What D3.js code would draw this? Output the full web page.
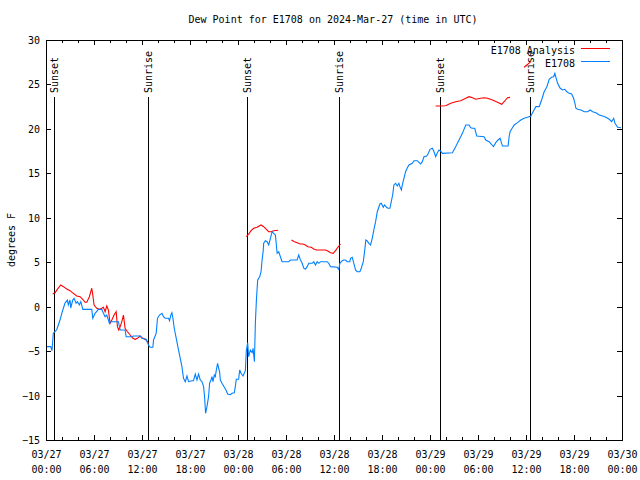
<!DOCTYPE html>
<html><head><meta charset="utf-8">
<script src="https://cdn.jsdelivr.net/npm/d3@7"></script>
<style>
body{margin:0;background:#fff}
text{font-family:"DejaVu Sans Mono","Liberation Mono",monospace;font-size:10px;fill:#000}
</style>
</head><body>
<svg id="chart" width="640" height="480"></svg>
<script>
// ---------------- DATA ----------------
const chartTitle = "Dew Point for E1708 on 2024-Mar-27 (time in UTC)";
const yAxisLabel = "degrees F";
const seriesNames = ["E1708 Analysis", "E1708"];
const startTime = Date.UTC(2024, 2, 27, 0, 0);
const endTime = Date.UTC(2024, 2, 30, 0, 0);
const yTicks = [-15, -10, -5, 0, 5, 10, 15, 20, 25, 30];
const xTickDates = ["03/27","03/27","03/27","03/27","03/28","03/28","03/28","03/28","03/29","03/29","03/29","03/29","03/30"];
const xTickTimes = ["00:00","06:00","12:00","18:00","00:00","06:00","12:00","18:00","00:00","06:00","12:00","18:00","00:00"];
const sunLabels = ["Sunset","Sunrise","Sunset","Sunrise","Sunset","Sunrise"];
const sunHours = [1.1, 12.77, 25.15, 36.68, 49.25, 60.55];

// observed E1708 (hours after 03/27 00:00 UTC, deg F)
const obsHours = [0.09,0.59,0.75,0.91,1.34,1.75,2.09,2.38,2.67,2.79,3.0,3.09,3.34,3.51,3.76,3.92,4.17,4.35,4.6,5.72,5.85,6.14,6.55,6.97,7.18,7.39,7.6,7.93,8.1,9.05,9.27,9.89,10.02,10.73,10.93,11.77,11.98,12.52,12.81,13.02,13.36,13.44,13.77,13.94,14.19,14.49,14.69,14.9,15.31,15.44,15.61,15.74,15.87,16.03,16.28,16.57,16.78,16.99,17.19,17.41,17.62,17.82,18.24,18.44,18.66,18.87,19.07,19.28,19.5,19.7,19.82,19.95,20.12,20.32,20.45,20.62,20.75,20.87,21.04,21.16,21.29,21.45,21.58,21.7,21.79,22.0,22.29,22.54,22.7,23.04,23.25,23.54,23.67,23.79,24.08,24.21,24.38,24.63,24.92,25.04,25.21,25.33,25.54,25.76,25.88,26.05,26.17,26.3,26.46,26.71,26.88,27.01,27.14,27.21,27.42,27.64,27.84,28.05,28.26,28.46,28.68,28.89,29.09,29.3,29.51,30.34,30.55,31.39,31.59,31.81,32.02,32.22,32.43,32.64,32.85,33.27,33.47,33.68,33.9,34.1,34.31,35.15,35.35,35.56,36.4,36.6,36.73,37.03,37.23,37.44,37.65,37.98,38.07,38.28,38.48,38.69,38.9,39.23,39.41,39.66,39.82,39.98,40.16,40.36,40.57,40.78,40.98,41.2,41.41,41.74,41.91,42.16,42.32,42.57,42.74,42.99,43.16,43.33,43.49,43.7,43.91,44.11,44.24,44.42,44.54,44.74,44.95,45.17,45.37,45.79,46.0,46.42,46.62,46.83,47.04,47.25,47.58,47.75,48.0,48.3,48.5,48.71,48.92,49.12,49.34,49.55,50.8,51.21,51.63,52.05,52.47,52.88,53.09,53.31,53.59,53.84,54.76,54.97,55.39,55.68,55.93,56.22,56.51,56.76,57.06,57.76,57.89,58.01,58.19,58.52,58.94,59.35,59.77,60.19,60.61,60.82,61.23,61.65,61.95,62.27,62.61,62.9,63.2,63.45,63.61,63.74,63.95,64.28,64.58,64.86,65.11,65.4,65.7,65.95,66.12,66.24,66.45,66.87,67.28,67.7,68.03,68.33,68.75,69.16,69.58,70.0,70.41,70.71,70.96,71.12,71.46,71.88];
const obsValues = [-4.5,-4.5,-4.95,-3.0,-2.6,-1.5,-0.4,0.4,0.75,0.2,0.75,-0.15,0.75,0.94,0.4,0.56,0.2,0.56,-0.3,-0.3,-1.3,-0.75,-0.3,-0.3,-0.75,-1.13,-0.94,-1.87,-1.69,-1.69,-2.63,-2.63,-3.38,-3.38,-3.3,-3.3,-3.56,-3.67,-4.31,-4.57,-4.57,-3.75,-3.0,-1.31,-0.94,-0.75,-1.13,-1.31,-1.31,-1.58,-0.94,-0.68,-1.31,-2.43,-3.56,-4.88,-5.81,-6.75,-8.06,-8.44,-7.8,-8.44,-8.33,-8.33,-7.58,-8.25,-7.58,-8.25,-8.44,-9.0,-10.13,-12.0,-11.25,-10.13,-8.62,-8.25,-7.88,-8.44,-7.69,-7.88,-7.13,-6.37,-6.93,-7.31,-8.25,-8.62,-9.07,-9.45,-9.83,-9.9,-9.75,-9.68,-8.93,-8.17,-8.17,-7.13,-7.5,-7.8,-7.2,-4.95,-4.05,-5.63,-4.88,-5.18,-4.68,-6.19,-1.87,0.75,3.0,3.37,3.93,5.25,6.18,7.13,7.42,7.31,6.94,7.69,8.43,8.25,8.06,6.0,6.18,5.62,5.06,5.06,5.25,5.25,5.81,5.25,4.88,4.32,4.2,4.5,4.88,4.88,5.06,4.69,5.06,4.88,5.06,5.06,4.88,4.5,4.43,4.2,4.88,5.17,5.25,5.25,5.06,5.06,5.44,5.55,4.88,4.13,3.93,3.93,4.32,5.06,6.18,7.5,7.39,7.13,6.94,7.69,8.63,9.56,10.68,11.55,11.63,11.18,11.44,11.18,11.07,11.07,11.81,12.56,13.69,13.88,13.58,13.88,13.5,13.13,13.69,14.44,15.18,15.63,15.94,16.13,16.42,16.42,16.24,16.05,16.31,16.87,16.95,17.18,17.7,17.82,17.43,16.87,17.32,17.63,17.5,17.25,17.32,18.0,18.75,19.5,20.44,20.44,20.13,20.07,20.07,19.2,19.12,18.75,18.56,18.27,18.0,18.45,18.75,18.94,18.07,18.07,19.12,19.68,19.95,20.44,20.7,21.0,21.19,21.3,21.45,21.82,22.5,22.5,23.25,24.18,24.75,25.58,25.8,25.87,26.25,25.8,25.13,24.57,24.38,24.45,24.18,24.0,23.93,23.44,22.88,22.32,22.2,22.13,21.93,21.93,22.13,21.93,21.82,21.56,21.45,21.3,21.08,20.81,21.19,20.63,20.18,20.13];

// analysis E1708 (null = gap)
const anaHours = [0.84,1.13,1.41,1.84,2.17,2.59,3.0,3.42,3.84,4.26,4.67,4.88,5.1,5.42,5.72,5.85,6.01,6.35,6.67,6.97,7.18,7.39,7.6,7.8,8.01,8.23,8.51,8.77,8.93,9.1,9.27,9.48,9.68,9.89,10.18,10.52,10.86,11.14,11.43,11.77,12.11,12.52,12.81,
  18.0,
  25.04,25.33,25.63,25.96,26.38,26.88,27.21,27.55,27.84,28.14,28.46,29.01,
  29.8,
  30.68,31.05,31.39,31.81,32.14,32.43,32.72,33.15,33.47,33.81,34.31,34.94,35.22,35.56,35.9,36.19,36.48,36.81,
  42.0,
  48.71,49.34,49.96,50.59,51.21,51.84,52.47,52.88,53.31,53.72,54.35,54.76,55.18,55.81,56.44,56.97,57.35,57.69,58.01,
  59.0,
  59.77,60.61];
const anaValues = [1.43,1.57,1.95,2.44,2.25,1.99,1.8,1.5,1.2,1.12,0.75,0.49,0.49,1.12,2.07,1.31,0.19,-0.18,-0.3,-0.18,-0.07,-0.57,0.08,-0.38,-1.87,-1.5,-0.94,-0.57,-2.25,-2.63,-2.25,-1.69,-0.94,-2.43,-2.82,-3.19,-3.56,-3.67,-3.56,-3.3,-3.56,-3.75,-4.12,
  null,
  7.87,8.17,8.55,8.82,8.93,9.19,9.0,8.7,8.43,8.43,8.55,8.59,
  null,
  7.5,7.31,7.2,7.05,7.05,6.94,6.75,6.68,6.49,6.38,6.38,6.38,6.26,6.07,6.0,6.3,6.68,7.05,
  null,
  22.58,22.58,22.61,22.88,23.06,23.17,23.44,23.62,23.51,23.33,23.44,23.51,23.44,23.25,22.99,22.77,23.14,23.51,23.55,
  null,
  26.93,27.56];

// ---------------- CHART ----------------
const svg = d3.select("#chart");
const L = 46, R = 622, T = 40, B = 440;
const hour = 3600e3;
const x = d3.scaleUtc().domain([new Date(startTime), new Date(endTime)]).range([L, R]);
const y = d3.scaleLinear().domain([-15, 30]).range([B, T]);
const tx = h => new Date(startTime + h * hour);

const colAna = "#ff0000", colObs = "#0080ff";

svg.append("rect").attr("width", 640).attr("height", 480).attr("fill", "#fff");

// title
svg.append("text").attr("x", 333).attr("y", 19).attr("text-anchor", "middle")
  .attr("dominant-baseline", "central").text(chartTitle);

// y label
svg.append("text").attr("transform", "translate(11,240) rotate(-90)")
  .attr("text-anchor", "middle").attr("dominant-baseline", "central").text(yAxisLabel);

const majorTicks = d3.utcHour.every(6).range(new Date(startTime), new Date(endTime + 1));
const minorTicks = d3.utcHour.every(2).range(new Date(startTime), new Date(endTime + 1))
  .filter(d => d.getUTCHours() % 6 !== 0);

function styleAxis(g) {
  g.select(".domain").remove();
  g.attr("font-family", null).attr("font-size", null);
  g.selectAll("line").attr("stroke", "#000").attr("shape-rendering", "crispEdges");
}

// bottom axis major with two-line labels
const gB = svg.append("g").attr("transform", `translate(0,${B})`)
  .call(d3.axisBottom(x).tickValues(majorTicks).tickSizeInner(-5).tickSizeOuter(0).tickFormat(() => ""));
styleAxis(gB);
gB.selectAll(".tick text").each(function(d, i) {
  const t = d3.select(this).attr("dy", null).attr("y", 0);
  t.append("tspan").attr("x", 0).attr("y", 14).attr("dominant-baseline", "central").text(xTickDates[i]);
  t.append("tspan").attr("x", 0).attr("y", 29).attr("dominant-baseline", "central").text(xTickTimes[i]);
});
const gBm = svg.append("g").attr("transform", `translate(0,${B})`)
  .call(d3.axisBottom(x).tickValues(minorTicks).tickSizeInner(-3).tickSizeOuter(0).tickFormat(() => ""));
styleAxis(gBm);
// top axis mirrored
const gT = svg.append("g").attr("transform", `translate(0,${T})`)
  .call(d3.axisTop(x).tickValues(majorTicks).tickSizeInner(-5).tickSizeOuter(0).tickFormat(() => ""));
styleAxis(gT);
const gTm = svg.append("g").attr("transform", `translate(0,${T})`)
  .call(d3.axisTop(x).tickValues(minorTicks).tickSizeInner(-3).tickSizeOuter(0).tickFormat(() => ""));
styleAxis(gTm);

// y axes
const gL = svg.append("g").attr("transform", `translate(${L},0)`)
  .call(d3.axisLeft(y).tickValues(yTicks).tickSizeInner(-5).tickSizeOuter(0).tickPadding(6).tickFormat(d3.format("d")));
styleAxis(gL);
gL.selectAll("text").attr("dy", null).attr("dominant-baseline", "central");
const gR = svg.append("g").attr("transform", `translate(${R},0)`)
  .call(d3.axisRight(y).tickValues(yTicks).tickSizeInner(-5).tickSizeOuter(0).tickFormat(() => ""));
styleAxis(gR);

// sunrise / sunset markers
const sun = svg.append("g");
sunHours.forEach((h, i) => {
  const px = Math.floor(x(tx(h))) + 0.5;
  sun.append("line").attr("x1", px).attr("x2", px).attr("y1", B).attr("y2", 97)
    .attr("stroke", "#000").attr("shape-rendering", "crispEdges");
});

// data lines
const line = d3.line().defined(d => d[1] != null).x(d => x(tx(d[0]))).y(d => y(d[1]));
const anaData = anaHours.map((h, i) => [h, anaValues[i]]);
const obsData = obsHours.map((h, i) => [h, obsValues[i]]);
svg.append("path").datum(anaData).attr("d", line).attr("fill", "none").attr("stroke", colAna).attr("stroke-width", 1.1);
svg.append("path").datum(obsData).attr("d", line).attr("fill", "none").attr("stroke", colObs).attr("stroke-width", 1.1);

// sun labels (drawn over lines)
sunHours.forEach((h, i) => {
  const px = Math.floor(x(tx(h))) + 0.5;
  sun.append("text").attr("transform", `translate(${px},93) rotate(-90)`)
    .attr("text-anchor", "start").attr("dominant-baseline", "central").text(sunLabels[i]);
});

// frame
svg.append("rect").attr("x", L + 0.5).attr("y", T + 0.5).attr("width", R - L).attr("height", B - T)
  .attr("fill", "none").attr("stroke", "#000").attr("shape-rendering", "crispEdges");

// legend
const legend = svg.append("g");
[[seriesNames[0], colAna, 50], [seriesNames[1], colObs, 63]].forEach(([name, c, ly]) => {
  legend.append("text").attr("x", 575).attr("y", ly).attr("text-anchor", "end").attr("dominant-baseline", "central").text(name);
  legend.append("line").attr("x1", 581).attr("x2", 610).attr("y1", ly - 1.5).attr("y2", ly - 1.5).attr("stroke", c);
});
</script>
</body></html>
